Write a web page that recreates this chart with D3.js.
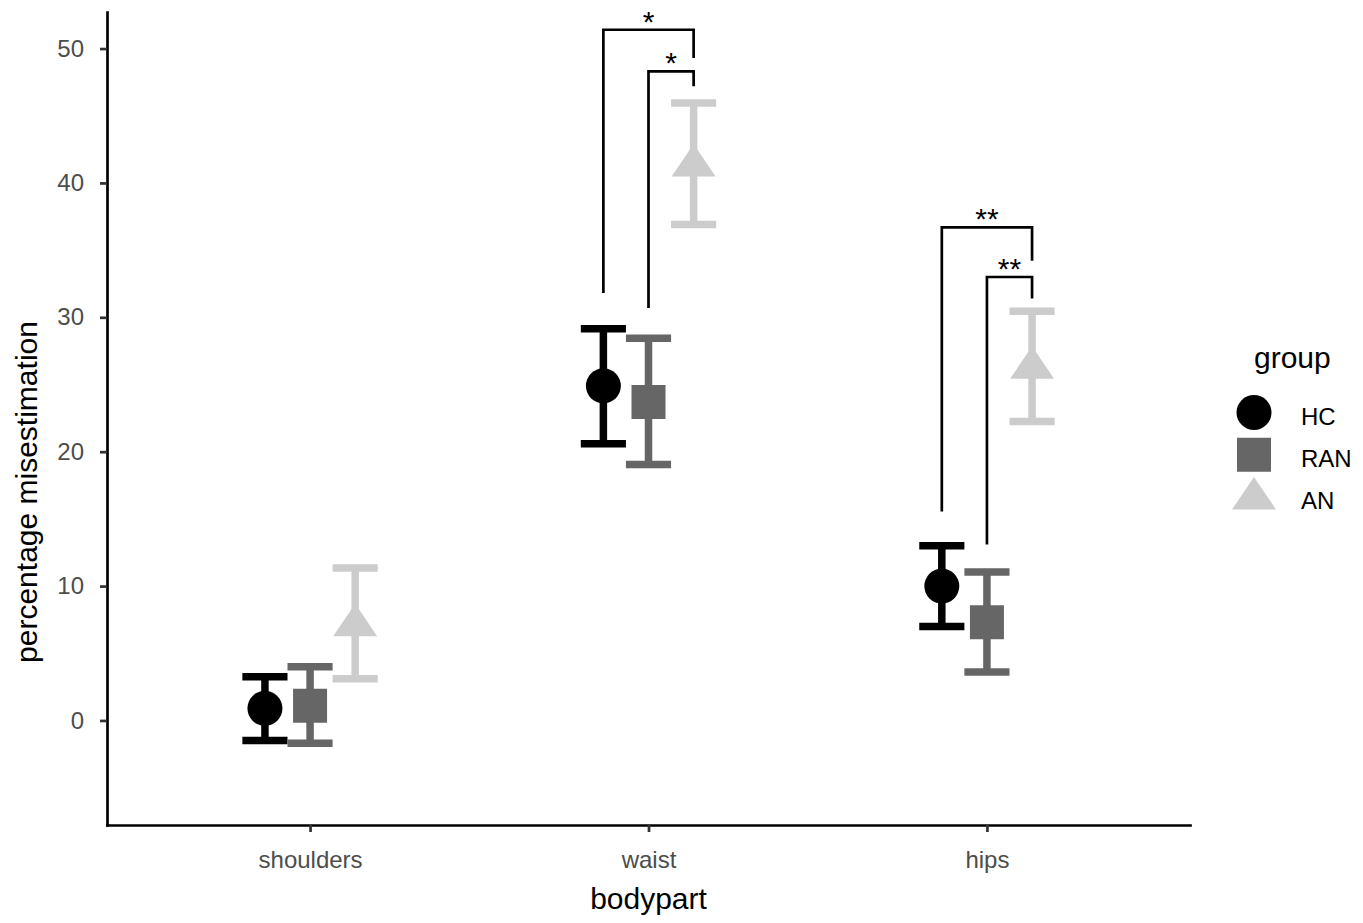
<!DOCTYPE html>
<html>
<head>
<meta charset="utf-8">
<script src="https://cdn.jsdelivr.net/npm/d3@7"></script>
<style>
  html, body { margin: 0; padding: 0; background: #ffffff; }
  svg { display: block; font-family: "Liberation Sans", Arial, Helvetica, sans-serif; }
</style>
</head>
<body>
<svg id="chart" width="1363" height="923"></svg>
<script>
// ---- data ----
const categories = ["shoulders", "waist", "hips"];
const groups = ["HC", "RAN", "AN"];
const groupColors = ["#000000", "#666666", "#cccccc"];

const meanHC  = [0.9, 24.9, 10.0];
const lowHC   = [-1.5, 20.6, 7.0];
const highHC  = [3.25, 29.15, 13.0];

const meanRAN = [1.1, 23.7, 7.3];
const lowRAN  = [-1.7, 19.05, 3.6];
const highRAN = [4.0, 28.45, 11.05];

const meanAN  = [7.2, 41.4, 26.35];
const lowAN   = [3.1, 36.9, 22.25];
const highAN  = [11.35, 45.95, 30.45];

const yTicks = [0, 10, 20, 30, 40, 50];

// significance brackets: category, from group, to group, start value, top value, end value, label
const sigCategory = ["waist", "waist", "hips", "hips"];
const sigFrom     = ["HC", "RAN", "HC", "RAN"];
const sigTo       = ["AN", "AN", "AN", "AN"];
const sigStart    = [31.8, 30.7, 15.55, 13.1];
const sigTop      = [51.4, 48.3, 36.7, 33.0];
const sigEnd      = [49.3, 47.2, 34.2, 31.4];
const sigLabel    = ["*", "*", "**", "**"];

const xTitle = "bodypart";
const yTitle = "percentage misestimation";
const legendTitle = "group";

(function () {
// ---- build table ----
const means = [meanHC, meanRAN, meanAN];
const lows = [lowHC, lowRAN, lowAN];
const highs = [highHC, highRAN, highAN];
const rows = [];
groups.forEach((g, gi) => {
  categories.forEach((c, ci) => {
    rows.push({ group: g, gi, cat: c, mean: means[gi][ci], low: lows[gi][ci], high: highs[gi][ci] });
  });
});

// ---- layout ----
const svg = d3.select("#chart");
const pLeft = 107, pRight = 1190, pTop = 12, pBottom = 825;

const x = d3.scalePoint().domain(categories).range([pLeft, pRight]).padding(0.6);
const step = x.step();
const dodge = 0.4;                       // dodge width in category units
const offset = d3.scaleBand().domain(groups).range([-dodge / 2 * step, dodge / 2 * step]);
const gx = (cat, g) => x(cat) + offset(g) + offset.bandwidth() / 2;
const capW = offset.bandwidth();

const y = d3.scaleLinear().domain([-7.78, 52.72]).range([pBottom, pTop]);

const colorOf = d3.scaleOrdinal().domain(groups).range(groupColors);

// ---- error bars ----
const eb = svg.append("g").attr("class", "errorbars");
rows.forEach(d => {
  const cx = gx(d.cat, d.group);
  const col = colorOf(d.group);
  const g = eb.append("g").attr("stroke", col).attr("stroke-width", 7.5).attr("fill", "none");
  g.append("line").attr("x1", cx).attr("x2", cx).attr("y1", y(d.low)).attr("y2", y(d.high));
  g.append("line").attr("x1", cx - capW / 2).attr("x2", cx + capW / 2).attr("y1", y(d.high)).attr("y2", y(d.high));
  g.append("line").attr("x1", cx - capW / 2).attr("x2", cx + capW / 2).attr("y1", y(d.low)).attr("y2", y(d.low));
});

// ---- point shapes ----
function shapePath(group, cx, cy) {
  if (group === "HC") {
    const r = 17.5;
    return `M${cx - r},${cy}a${r},${r} 0 1,0 ${2 * r},0a${r},${r} 0 1,0 ${-2 * r},0Z`;
  } else if (group === "RAN") {
    const h = 17;
    return `M${cx - h},${cy - h}H${cx + h}V${cy + h}H${cx - h}Z`;
  } else {
    const up = 20, down = 12.5, hw = 22;
    return `M${cx},${cy - up}L${cx + hw},${cy + down}L${cx - hw},${cy + down}Z`;
  }
}

const pts = svg.append("g").attr("class", "points");
rows.forEach(d => {
  pts.append("path")
    .attr("d", shapePath(d.group, gx(d.cat, d.group), y(d.mean)))
    .attr("fill", colorOf(d.group));
});

// ---- axes ----
const yAxis = svg.append("g")
  .attr("transform", `translate(${pLeft},0)`)
  .call(d3.axisLeft(y).tickValues(yTicks).tickSize(7).tickSizeOuter(0).tickPadding(16));
const xAxis = svg.append("g")
  .attr("transform", `translate(0,${pBottom})`)
  .call(d3.axisBottom(x).tickSize(7).tickSizeOuter(0).tickPadding(19));

[yAxis, xAxis].forEach(a => {
  a.select(".domain").attr("stroke", "#000").attr("stroke-width", 2.7).attr("stroke-linecap", "square");
  a.selectAll(".tick line").attr("stroke", "#333333").attr("stroke-width", 2.7);
  a.selectAll(".tick text").attr("fill", "#4d4d4d").style("font-size", "24px")
    .style("font-family", '"Liberation Sans", Arial, Helvetica, sans-serif');
});

// ---- significance brackets ----
const sig = svg.append("g").attr("class", "signif");
sigCategory.forEach((c, i) => {
  const x1 = gx(c, sigFrom[i]), x2 = gx(c, sigTo[i]);
  sig.append("path")
    .attr("d", `M${x1},${y(sigStart[i])}V${y(sigTop[i])}H${x2}V${y(sigEnd[i])}`)
    .attr("fill", "none").attr("stroke", "#000").attr("stroke-width", 2.7);
  sig.append("text")
    .attr("x", (x1 + x2) / 2)
    .attr("y", y(sigTop[i]) + 2)
    .attr("text-anchor", "middle")
    .style("font-size", "30px")
    .attr("fill", "#000")
    .text(sigLabel[i]);
});

// ---- titles ----
svg.append("text")
  .attr("x", (pLeft + pRight) / 2)
  .attr("y", 909)
  .attr("text-anchor", "middle")
  .style("font-size", "30px")
  .attr("fill", "#000")
  .text(xTitle);

svg.append("text")
  .attr("transform", `translate(37,492) rotate(-90)`)
  .attr("text-anchor", "middle")
  .style("font-size", "30px")
  .attr("fill", "#000")
  .text(yTitle);

// ---- legend ----
const lg = svg.append("g").attr("class", "legend");
lg.append("text")
  .attr("x", 1254).attr("y", 368)
  .style("font-size", "30px").attr("fill", "#000")
  .text(legendTitle);
const keyY0 = 412.5, keyStep = 42.2, keyX = 1254;
groups.forEach((g, i) => {
  const cy = keyY0 + i * keyStep;
  lg.append("path").attr("d", shapePath(g, keyX, cy)).attr("fill", colorOf(g));
  lg.append("text")
    .attr("x", 1301).attr("y", cy + 12)
    .style("font-size", "24px").attr("fill", "#000")
    .text(g);
});
})();
</script>
</body>
</html>
